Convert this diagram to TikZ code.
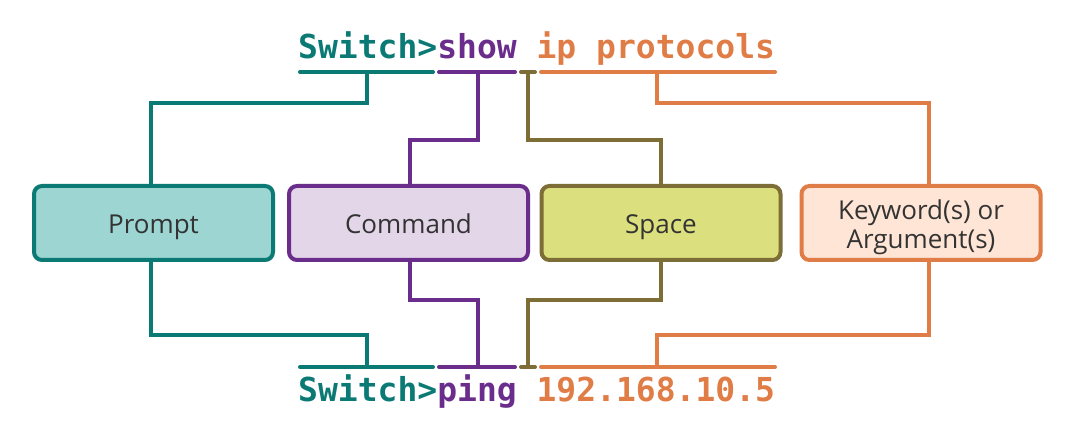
\documentclass[tikz,border=0pt]{standalone}
\usepackage{fontspec}
\setmainfont{Open Sans}
\newfontfamily\monob[WordSpace={1,0,0}]{DejaVu Sans Mono}
\definecolor{tealC}{HTML}{0B7A75}
\definecolor{tealF}{HTML}{9CD5D2}
\definecolor{purC}{HTML}{6B2D8B}
\definecolor{purF}{HTML}{E2D6E8}
\definecolor{oliC}{HTML}{7D6D36}
\definecolor{oliF}{HTML}{DCDF7D}
\definecolor{oraC}{HTML}{E07C45}
\definecolor{oraF}{HTML}{FEE5D5}
\definecolor{txtC}{HTML}{333333}
\begin{document}
\begin{tikzpicture}[x=1pt,y=-1pt,
  boxst/.style={line width=4pt, rounded corners=8pt, minimum width=239pt, minimum height=74pt,
    inner sep=0pt, align=center, text=txtC, font=\fontsize{26}{29}\selectfont,
    text height=22pt, text depth=0pt},
  boxtwo/.style={boxst, text height=52pt, text depth=0pt},
  conn/.style={line width=4pt, line cap=butt},
  ul/.style={line width=4pt, line cap=round},
  cmdtxt/.style={anchor=base west, inner sep=0pt, font=\monob\bfseries\fontsize{33}{33}\selectfont}]
\useasboundingbox (0,0) rectangle (1073,435);
% command lines
\node[cmdtxt] (top) at (298,59) {\textcolor{tealC}{Switch>}\textcolor{purC}{show} \textcolor{oraC}{ip protocols}};
\node[cmdtxt] (bot) at (298,401) {\textcolor{tealC}{Switch>}\textcolor{purC}{ping} \textcolor{oraC}{192.168.10.5}};
% boxes
\node[boxst, draw=tealC, fill=tealF] (prompt) at (153.5,223) {Prompt};
\node[boxst, draw=purC, fill=purF] (command) at (408.5,223) {Command};
\node[boxst, draw=oliC, fill=oliF] (space) at (661,223) {Space};
\node[boxtwo, draw=oraC, fill=oraF] (kw) at (921,223) {Keyword(s) or\\Argument(s)};
% underline coordinates (top)
\coordinate (ta1) at (300,72); \coordinate (ta2) at (433,72);
\coordinate (tb1) at (439,72); \coordinate (tb2) at (515,72);
\coordinate (tc1) at (521,72); \coordinate (tc2) at (535,72);
\coordinate (td1) at (541,72); \coordinate (td2) at (775,72);
% underline coordinates (bottom)
\coordinate (ba1) at (300,367); \coordinate (ba2) at (433,367);
\coordinate (bb1) at (439,367); \coordinate (bb2) at (515,367);
\coordinate (bc1) at (521,367); \coordinate (bc2) at (535,367);
\coordinate (bd1) at (541,367); \coordinate (bd2) at (775,367);
% junctions
\coordinate (tja) at (367,72); \coordinate (tjb) at (478,72);
\coordinate (tjc) at (528,72); \coordinate (tjd) at (657,72);
\coordinate (bja) at (367,367); \coordinate (bjb) at (478,367);
\coordinate (bjc) at (528,367); \coordinate (bjd) at (657,367);
% bends
\coordinate (tka) at (367,103); \coordinate (tkb) at (478,140);
\coordinate (tkc) at (528,140); \coordinate (tkd) at (657,103);
\coordinate (bka) at (367,335); \coordinate (bkb) at (478,300);
\coordinate (bkc) at (528,300); \coordinate (bkd) at (657,335);
% underlines
\draw[ul, tealC] (ta1) -- (ta2); \draw[ul, purC] (tb1) -- (tb2);
\draw[ul, oliC] (tc1) -- (tc2); \draw[ul, oraC] (td1) -- (td2);
\draw[ul, tealC] (ba1) -- (ba2); \draw[ul, purC] (bb1) -- (bb2);
\draw[ul, oliC] (bc1) -- (bc2); \draw[ul, oraC] (bd1) -- (bd2);
% top connectors
\draw[conn, tealC] (tja) -- (tka) -| ([xshift=-2.5pt]prompt.north);
\draw[conn, purC] (tjb) -- (tkb) -| ([xshift=1.5pt]command.north);
\draw[conn, oliC] (tjc) -- (tkc) -| (space.north);
\draw[conn, oraC] (tjd) -- (tkd) -| ([xshift=8pt]kw.north);
% bottom connectors
\draw[conn, tealC] ([xshift=-2.5pt]prompt.south) |- (bka) -- (bja);
\draw[conn, purC] ([xshift=1.5pt]command.south) |- (bkb) -- (bjb);
\draw[conn, oliC] (space.south) |- (bkc) -- (bjc);
\draw[conn, oraC] ([xshift=8pt]kw.south) |- (bkd) -- (bjd);
\end{tikzpicture}
\end{document}
